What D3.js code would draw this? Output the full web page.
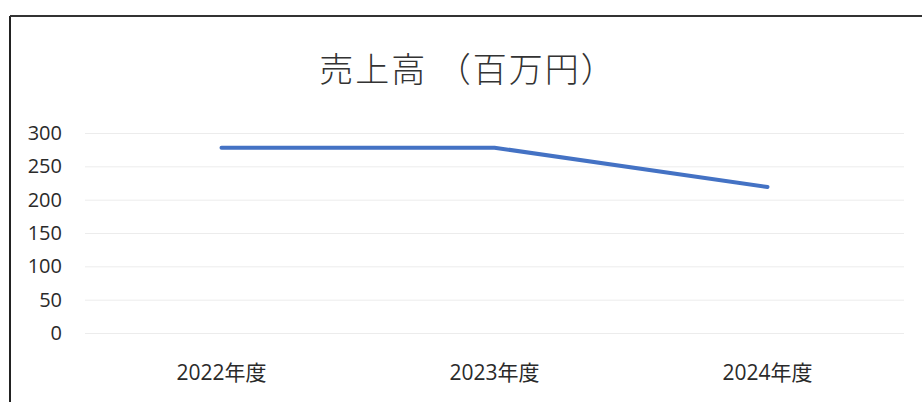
<!DOCTYPE html>
<html><head><meta charset="utf-8">
<script src="https://cdn.jsdelivr.net/npm/d3@7"></script>
<style>body{margin:0;background:#fff}svg{display:block}</style>
</head><body>
<script>
const title = "売上高 （百万円）";
const categories = ["2022年度", "2023年度", "2024年度"];
const sales = [278, 278, 219];
const yTicks = [0, 50, 100, 150, 200, 250, 300];

(function () {
const W = 922, H = 402;
const svg = d3.select("body").append("svg").attr("width", W).attr("height", H);
svg.append("rect").attr("width", W).attr("height", H).attr("fill", "#fff");

// frame (left and top edges visible)
svg.append("line").attr("x1", 10).attr("x2", 10).attr("y1", 16).attr("y2", H).attr("stroke", "#222").attr("stroke-width", 2);
svg.append("line").attr("x1", 10).attr("x2", W).attr("y1", 16).attr("y2", 16).attr("stroke", "#333").attr("stroke-width", 2);

const mLeft = 85, mRight = 904, mTop = 133, mBottom = 333;
const x = d3.scaleBand().domain(categories).range([mLeft, mRight]);
const y = d3.scaleLinear().domain([0, 300]).range([mBottom, mTop]);

svg.append("text").attr("x", 468).attr("y", 82).attr("text-anchor", "middle")
  .attr("font-family", "'Noto Sans CJK JP', sans-serif").attr("font-size", 34)
  .attr("letter-spacing", 2)
  .attr("font-weight", 300).attr("fill", "#333").text(title);

const yAxis = svg.append("g").attr("transform", `translate(${mLeft},0)`)
  .call(d3.axisLeft(y).tickValues(yTicks).tickSize(-(mRight - mLeft)).tickPadding(23));
yAxis.select(".domain").remove();
yAxis.selectAll(".tick line").attr("stroke", "#ececec").attr("stroke-width", 1);
yAxis.selectAll(".tick text").attr("font-family", "'Open Sans', 'Noto Sans', sans-serif")
  .attr("font-size", 20).attr("fill", "#2a2a2a");

const xAxis = svg.append("g").attr("transform", `translate(0,${mBottom})`)
  .call(d3.axisBottom(x).tickSize(0).tickPadding(32));
xAxis.select(".domain").remove();
xAxis.selectAll(".tick text").attr("font-family", "'Open Sans', 'Noto Sans CJK JP', sans-serif")
  .attr("font-size", 21).attr("fill", "#2a2a2a");

const line = d3.line().x((d, i) => x(categories[i]) + x.bandwidth() / 2).y(d => y(d));
svg.append("path").datum(sales).attr("d", line).attr("fill", "none")
  .attr("stroke", "#4472C4").attr("stroke-width", 4).attr("stroke-linecap", "round").attr("stroke-linejoin", "round");
})();
</script>
</body></html>
